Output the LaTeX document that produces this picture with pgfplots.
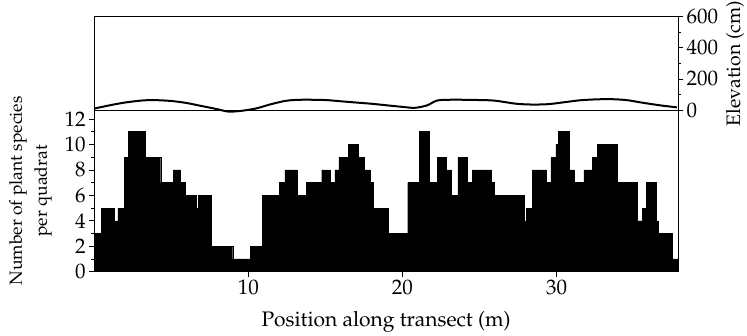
\documentclass[border=0pt]{standalone}
\usepackage[T1]{fontenc}
\usepackage{mathpazo}
\usepackage{pgfplots}
\pgfplotsset{compat=1.18}
\begin{document}
\begin{tikzpicture}[x=1pt,y=1pt]
\useasboundingbox (0,0) rectangle (747,335);
\begin{axis}[
  at={(94.1pt,63.3pt)}, anchor=south west, scale only axis,
  width=583.9pt, height=161.7pt,
  xmin=0, xmax=37.87, ymin=0, ymax=12.7,
  ytick={0,2,...,12}, minor ytick={1,3,...,11},
  xtick={10,20,30},
  tick align=outside, major tick length=5pt, minor tick length=3pt,
  xtick pos=bottom, ytick pos=left,
  axis line style={line width=0.6pt},
  tick style={line width=0.6pt, black},
  tick label style={font=\fontsize{21}{24}\selectfont},
  xlabel={Position along transect (m)},
  xlabel style={font=\fontsize{21}{24}\selectfont, at={(axis description cs:0.5,-0.311)}, anchor=center},
  ylabel={Number of plant species\\per quadrat},
  ylabel style={align=center, font=\fontsize{17.5}{25}\selectfont, at={(axis description cs:-0.109,0.5)}, anchor=center},
]
\addplot[const plot mark left, fill=black, draw=black, line width=0.3pt] coordinates {
(0,3) (0.47,5) (1.29,4) (1.55,5) (1.94,9) (2.24,11) (3.32,9) (4.32,7)
(5.12,8) (5.57,7) (5.91,6) (6.61,5) (6.78,6) (7.58,2) (8.99,1) (10.13,2)
(10.89,6) (12.01,7) (12.38,8) (13.18,6) (13.76,7) (14.76,8) (15.33,7)
(15.62,8) (15.88,9) (16.49,10) (17.13,9) (17.50,8) (17.89,7) (18.09,5)
(19.08,3) (20.34,7) (21.09,11) (21.76,7) (22.24,9) (22.82,8) (23.16,6)
(23.60,9) (24.20,7) (24.55,8) (25.78,7) (25.95,6) (27.90,4) (28.05,5)
(28.42,8) (29.31,7) (29.63,9) (29.95,10) (30.10,11) (30.82,8) (31.14,7)
(31.77,8) (32.31,9) (32.63,10) (33.28,0) (33.37,10) (33.93,7) (35.23,4)
(35.55,5) (35.81,7) (36.44,4) (36.57,3) (37.51,1) (37.87,1)
} \closedcycle;
\end{axis}
\begin{axis}[
  at={(94.1pt,225pt)}, anchor=south west, scale only axis,
  width=583.9pt, height=93.3pt,
  xmin=0, xmax=37.87, ymin=0, ymax=600,
  xtick=\empty,
  ytick={0,200,400,600}, minor ytick={100,300,500},
  ytick pos=right, yticklabel pos=right,
  tick align=outside, major tick length=5pt, minor tick length=3pt,
  axis line style={line width=0.6pt},
  tick style={line width=0.6pt, black},
  tick label style={font=\fontsize{21}{24}\selectfont},
  ylabel={Elevation (cm)},
  ylabel style={font=\fontsize{19.5}{22}\selectfont, at={(axis description cs:1.0976,0.5)}, anchor=center, rotate=0},
  clip=false,
]
\addplot[smooth, line width=2pt, black] coordinates {
(0.05,10) (1,30) (2,48) (3,60) (3.8,64) (5,58) (6,45) (7,25) (8,5)
(8.7,-10) (9.5,-6) (10.5,10) (11.5,38) (12.5,60) (13.5,66) (15,64)
(16,56) (17,48) (18,40) (19,30) (20,20) (20.8,14) (21.6,30) (22.3,62)
(23.5,66) (25,64) (26,60) (27.4,40) (28.5,35) (29.5,38) (30.5,50)
(31.7,64) (33.3,70) (34.5,64) (35.5,48) (36.7,30) (37.8,17)
};
\end{axis}
\end{tikzpicture}
\end{document}
